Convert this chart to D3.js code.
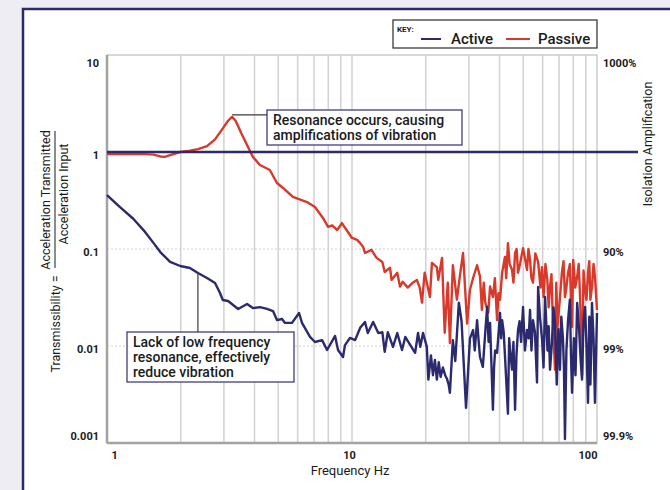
<!DOCTYPE html>
<html>
<head>
<meta charset="utf-8">
<script src="https://cdn.jsdelivr.net/npm/d3@7"></script>
<style>
  body { margin: 0; background: #eeedf3; }
  svg { display: block; }
  text { font-family: Roboto, "Open Sans", sans-serif; fill: #1a1a1a; }
</style>
</head>
<body>
<div id="wrapper"></div>
<script>
// data
const activeFreq = [1.00, 1.13, 1.28, 1.43, 1.55, 1.65, 1.81, 1.99, 2.18, 2.35, 2.56, 2.76, 2.88, 2.97, 3.12, 3.43, 3.73, 3.94, 4.21, 4.50,
  4.76, 4.94, 5.18, 5.33, 5.69, 6.08, 6.25, 6.74, 7.06, 7.55, 7.91, 8.53, 8.77, 9.19, 9.36, 9.81, 10.3, 10.8, 11.3, 11.6,
  12.2, 12.8, 13.3, 13.6, 14.0, 14.7, 15.3, 16.0, 16.5, 17.3, 18.1, 18.6, 19.0, 19.5, 20.2, 20.5, 21.0, 21.4, 21.8, 22.2,
  22.6, 23.0, 23.5, 24.0, 24.4, 24.8, 25.1, 25.8, 26.4, 27.3, 28.0, 29.2,
  30.3, 31.2, 31.7, 32.4, 32.9, 33.3, 34.2, 35.0, 35.6, 36.1, 36.6, 37.6, 38.0, 38.4, 39.1, 40.2, 40.6, 41.0, 41.6, 42.1,
  43.3, 43.8, 44.2, 45.0, 45.6, 46.3, 46.9, 47.6, 48.3, 49.0, 49.9, 50.8, 51.8, 52.6, 53.3, 54.0, 54.8, 55.8, 56.9, 57.5,
  58.5, 59.7, 60.5, 61.4, 62.8, 63.5, 64.3, 65.5, 66.4, 67.4, 68.5, 69.5, 70.6, 71.5, 72.6, 73.3, 74.0, 75.0, 76.2, 77.5,
  78.3, 79.1, 80.5, 81.7, 83.0, 84.5, 85.8, 86.9, 88.1, 89.4, 90.6, 91.9, 93.0, 94.0, 95.4, 96.8, 98.1, 100]
const activeValue = [0.36, 0.27, 0.205, 0.15, 0.115, 0.093, 0.0735, 0.0668, 0.0637, 0.0566, 0.0503, 0.0446, 0.036, 0.0298, 0.0291, 0.0241, 0.0271, 0.0246, 0.0252, 0.0241,
  0.0229, 0.0185, 0.019, 0.0173, 0.0173, 0.0219, 0.0173, 0.0124, 0.011, 0.0115, 0.0091, 0.0127, 0.0091, 0.0077, 0.0102, 0.0121, 0.0115, 0.0154, 0.0177, 0.0136,
  0.0177, 0.0136, 0.0139, 0.0087, 0.0139, 0.0098, 0.0136, 0.0091, 0.0124, 0.0102, 0.0085, 0.0136, 0.0098, 0.0136, 0.0098, 0.0045, 0.008, 0.005, 0.0072, 0.0045,
  0.0068, 0.0048, 0.006, 0.005, 0.0046, 0.004, 0.0033, 0.0115, 0.007, 0.028, 0.018, 0.0023,
  0.012, 0.0146, 0.009, 0.0185, 0.011, 0.0077, 0.0061, 0.014, 0.0252, 0.011, 0.0173, 0.0022, 0.006, 0.009, 0.0085, 0.0219, 0.012, 0.0185, 0.014, 0.008,
  0.002, 0.012, 0.009, 0.0057, 0.011, 0.0022, 0.008, 0.0146, 0.018, 0.011, 0.0252, 0.009, 0.0146, 0.012, 0.0235, 0.009, 0.0185, 0.014, 0.0042, 0.0406,
  0.02, 0.0115, 0.006, 0.032, 0.009, 0.016, 0.0057, 0.011, 0.025, 0.0173, 0.004, 0.015, 0.0057, 0.02, 0.012, 0.006, 0.0011, 0.009, 0.0185, 0.03,
  0.008, 0.0033, 0.012, 0.005, 0.0278, 0.015, 0.007, 0.0045, 0.018, 0.0252, 0.01, 0.0026, 0.02, 0.004, 0.0278, 0.012, 0.0026, 0.0219]

const passiveFreq = [1.00, 1.20, 1.43, 1.55, 1.65, 1.72, 1.81, 1.99, 2.18, 2.35, 2.56, 2.76, 2.97, 3.12, 3.24, 3.35, 3.53, 3.73, 3.94, 4.21,
  4.62, 4.94, 5.23, 5.74, 6.55, 7.06, 7.61, 7.99, 8.30, 8.70, 9.10, 9.50, 10.0, 10.5, 10.8, 11.1, 11.3, 12.0, 12.6, 13.3,
  13.6, 14.3, 14.5, 15.3, 15.7, 16.1, 16.9, 17.7, 18.4, 18.9, 19.3, 19.8, 20.8, 21.2, 22.2, 22.5, 23.3, 23.9, 24.6, 25.1,
  25.8, 26.8, 27.6, 28.4, 29.5,
  30.3, 31.2, 32.4, 33.3, 33.9, 34.5, 35.0, 36.0, 36.6, 37.6, 38.3, 39.1, 39.6, 40.2, 41.0, 42.1, 42.6, 43.3, 44.0, 45.0,
  45.6, 46.3, 47.0, 47.6, 48.5, 49.9, 50.8, 51.8, 52.5, 53.3, 54.0, 54.8, 56.0, 57.5, 58.8, 59.6, 60.5, 61.6, 62.7, 63.5,
  64.3, 65.2, 66.0, 67.4, 68.2, 69.0, 70.5, 71.9, 73.0, 74.0, 75.0, 76.2, 77.5, 78.3, 79.1, 80.0, 81.5, 83.0, 84.2, 85.3,
  86.9, 88.1, 89.4, 90.6, 91.9, 93.0, 94.0, 95.4, 96.8, 98.1, 100]
const passiveValue = [0.95, 0.95, 0.95, 0.94, 0.9, 0.89, 0.93, 1.0, 1.03, 1.07, 1.15, 1.35, 1.75, 2.1, 2.3, 2.1, 1.57, 1.18, 0.89, 0.734,
  0.652, 0.479, 0.426, 0.344, 0.305, 0.271, 0.209, 0.169, 0.175, 0.157, 0.185, 0.157, 0.13, 0.124, 0.115, 0.105, 0.091, 0.098, 0.081, 0.0735,
  0.058, 0.064, 0.048, 0.057, 0.041, 0.046, 0.04, 0.045, 0.048, 0.04, 0.028, 0.057, 0.032, 0.072, 0.065, 0.048, 0.081, 0.0137, 0.045, 0.0107,
  0.068, 0.03, 0.054, 0.091, 0.017,
  0.038, 0.05, 0.068, 0.052, 0.0235, 0.045, 0.028, 0.022, 0.041, 0.032, 0.05, 0.0185, 0.035, 0.03, 0.057, 0.083, 0.05, 0.115, 0.07, 0.061,
  0.045, 0.091, 0.1, 0.057, 0.07, 0.102, 0.08, 0.061, 0.1, 0.077, 0.05, 0.045, 0.09, 0.0735, 0.04, 0.065, 0.032, 0.07, 0.048, 0.025,
  0.041, 0.055, 0.0185, 0.0057, 0.045, 0.0157, 0.03, 0.057, 0.075, 0.032, 0.04, 0.057, 0.07, 0.03, 0.0157, 0.077, 0.04, 0.052, 0.07, 0.032,
  0.005, 0.06, 0.038, 0.03, 0.057, 0.075, 0.03, 0.041, 0.07, 0.052, 0.0235]

const yTickValues = [10, 1, 0.1, 0.01, 0.001]
const yTickLabels = ["10", "1", "0.1", "0.01", "0.001"]
const rightTickValues = [10, 0.1, 0.01, 0.001]
const rightTickLabels = ["1000%", "90%", "99%", "99.9%"]
const xTickValues = [1, 10, 100]
const xTickLabels = ["1", "10", "100"]
const xGridValues = [2, 3, 4, 5, 6, 7, 8, 9, 10, 20, 30, 40, 50, 60, 70, 80, 90]
const yGridValues = [0.1, 0.01]

const seriesNames = ["Active", "Passive"]
const seriesColors = ["#2b2a6e", "#d8392b"]

const resonanceNote = { freq: 3.24, value: 2.3, lines: ["Resonance occurs, causing", "amplifications of vibration"] }
const lackNote = { freq: 2.35, value: 0.0566, lines: ["Lack of low frequency", "resonance, effectively", "reduce vibration"] }

function drawChart() {

  // 1. dimensions
  let dimensions = {
    width: 670,
    height: 490,
    margin: { top: 55, right: 73, bottom: 47, left: 107 },
  }
  dimensions.boundedWidth = dimensions.width - dimensions.margin.left - dimensions.margin.right
  dimensions.boundedHeight = dimensions.height - dimensions.margin.top - dimensions.margin.bottom

  const active = activeFreq.map((f, i) => ({ f: f, v: activeValue[i] }))
  const passive = passiveFreq.map((f, i) => ({ f: f, v: passiveValue[i] }))

  // 2. canvas
  const wrapper = d3.select("#wrapper")
    .append("svg")
      .attr("width", dimensions.width)
      .attr("height", dimensions.height)

  wrapper.append("rect")
      .attr("x", 23)
      .attr("y", 9)
      .attr("width", dimensions.width + 20)
      .attr("height", dimensions.height + 20)
      .attr("fill", "#fff")
      .attr("stroke", seriesColors[0])
      .attr("stroke-width", 2.5)

  const bounds = wrapper.append("g")
      .attr("transform", `translate(${dimensions.margin.left}, ${dimensions.margin.top})`)

  // 3. scales
  const xScale = d3.scaleLog()
    .domain([1, 100])
    .range([0, dimensions.boundedWidth])

  const yScale = d3.scaleLog()
    .domain([0.001, 10])
    .range([dimensions.boundedHeight, 0])

  // 4. grid + frame
  bounds.append("g")
    .selectAll("line")
    .data(xGridValues)
    .join("line")
      .attr("x1", d => xScale(d))
      .attr("x2", d => xScale(d))
      .attr("y1", 0)
      .attr("y2", dimensions.boundedHeight)
      .attr("stroke", "#d2d2d2")
      .attr("stroke-width", 1.5)

  bounds.append("g")
    .selectAll("line")
    .data(yGridValues)
    .join("line")
      .attr("x1", 0)
      .attr("x2", dimensions.boundedWidth)
      .attr("y1", d => yScale(d))
      .attr("y2", d => yScale(d))
      .attr("stroke", "#cfcfcf")
      .attr("stroke-width", 1)
      .attr("stroke-dasharray", "2 2")

  bounds.append("rect")
      .attr("width", dimensions.boundedWidth)
      .attr("height", dimensions.boundedHeight)
      .attr("fill", "none")
      .attr("stroke", "#cccccc")
      .attr("stroke-width", 1.5)

  bounds.append("line")
      .attr("x1", 0).attr("x2", 0)
      .attr("y1", 0).attr("y2", dimensions.boundedHeight)
      .attr("stroke", "#a3a3a3")
      .attr("stroke-width", 2.5)
  bounds.append("line")
      .attr("x1", 0).attr("x2", dimensions.boundedWidth)
      .attr("y1", dimensions.boundedHeight).attr("y2", dimensions.boundedHeight)
      .attr("stroke", "#a3a3a3")
      .attr("stroke-width", 2.5)

  // 5. data lines
  const lineGenerator = d3.line()
    .x(d => xScale(d.f))
    .y(d => yScale(d.v))
    .curve(d3.curveLinear)

  bounds.append("path")
      .datum(passive)
      .attr("d", lineGenerator)
      .attr("fill", "none")
      .attr("stroke", seriesColors[1])
      .attr("stroke-width", 2.4)
      .attr("stroke-linejoin", "round")

  bounds.append("path")
      .datum(active)
      .attr("d", lineGenerator)
      .attr("fill", "none")
      .attr("stroke", seriesColors[0])
      .attr("stroke-width", 2.4)
      .attr("stroke-linejoin", "round")

  // unity line runs past the plot to the page border
  bounds.append("line")
      .attr("x1", 0)
      .attr("x2", dimensions.width - dimensions.margin.left - 32)
      .attr("y1", yScale(1))
      .attr("y2", yScale(1))
      .attr("stroke", seriesColors[0])
      .attr("stroke-width", 2.5)

  // 6. axes
  const lastY = yTickValues.length - 1
  const yAxis = bounds.append("g")
    .call(d3.axisLeft(yScale)
      .tickValues(yTickValues)
      .tickFormat((d, i) => yTickLabels[i])
      .tickSize(0)
      .tickPadding(8))
  yAxis.select(".domain").remove()
  yAxis.selectAll("text")
      .attr("dy", (d, i) => i == 0 ? 11 : i == lastY ? -4 : 6)

  const rightAxis = bounds.append("g")
      .attr("transform", `translate(${dimensions.boundedWidth}, 0)`)
    .call(d3.axisRight(yScale)
      .tickValues(rightTickValues)
      .tickFormat((d, i) => rightTickLabels[i])
      .tickSize(0)
      .tickPadding(6))
  rightAxis.select(".domain").remove()
  rightAxis.selectAll("text")
      .attr("dy", (d, i) => i == 0 ? 11 : i == rightTickValues.length - 1 ? -4 : 6)

  const xAxis = bounds.append("g")
      .attr("transform", `translate(0, ${dimensions.boundedHeight})`)
    .call(d3.axisBottom(xScale)
      .tickValues(xTickValues)
      .tickFormat((d, i) => xTickLabels[i])
      .tickSize(0)
      .tickPadding(8))
  xAxis.select(".domain").remove()
  xAxis.selectAll("text")
      .attr("text-anchor", (d, i) => i == 0 ? "start" : i == xTickValues.length - 1 ? "end" : "middle")
      .attr("dx", (d, i) => i == 0 ? 4 : i == 1 ? -3 : 0)

  wrapper.selectAll(".tick text")
      .style("font-family", "Roboto, sans-serif")
      .style("font-size", "11px")
      .style("font-weight", "700")
      .attr("fill", "#1a1a1a")

  // axis titles
  bounds.append("text")
      .attr("x", dimensions.boundedWidth / 2 - 2)
      .attr("y", dimensions.boundedHeight + 32)
      .attr("text-anchor", "middle")
      .style("font-size", "13px")
      .text("Frequency Hz")

  const yTitle = wrapper.append("g")
  yTitle.append("text")
      .attr("transform", "translate(60, 324) rotate(-90)")
      .attr("text-anchor", "middle")
      .style("font-size", "12.5px")
      .text("Transmissibility =")
  yTitle.append("text")
      .attr("transform", "translate(50, 200) rotate(-90)")
      .attr("text-anchor", "middle")
      .style("font-size", "12.5px")
      .text("Acceleration Transmitted")
  yTitle.append("line")
      .attr("x1", 55).attr("x2", 55)
      .attr("y1", 131).attr("y2", 268)
      .attr("stroke", "#1a1a1a")
      .attr("stroke-width", 1)
  yTitle.append("text")
      .attr("transform", "translate(68, 194) rotate(-90)")
      .attr("text-anchor", "middle")
      .style("font-size", "12.5px")
      .text("Acceleration Input")

  wrapper.append("text")
      .attr("transform", "translate(652, 144) rotate(-90)")
      .attr("text-anchor", "middle")
      .style("font-size", "12.5px")
      .text("Isolation Amplification")

  // 7. annotations
  function drawNote(note, box, leader) {
    const g = wrapper.append("g")
    const px = dimensions.margin.left + xScale(note.freq)
    const py = dimensions.margin.top + yScale(note.value)
    g.append("path")
        .attr("d", leader(px, py))
        .attr("fill", "none")
        .attr("stroke", "#3a3a3a")
        .attr("stroke-width", 1.2)
    g.append("rect")
        .attr("x", box.x)
        .attr("y", box.y)
        .attr("width", box.w)
        .attr("height", box.h)
        .attr("fill", "#fff")
        .attr("stroke", "#3f3e7c")
        .attr("stroke-width", 1.3)
    g.selectAll(".note-line")
      .data(note.lines)
      .join("text")
        .attr("class", "note-line")
        .attr("x", box.x + 6)
        .attr("y", (d, i) => box.y + 15 + i * box.lh)
        .style("font-size", "14px")
        .style("font-weight", "500")
        .text(d => d)
  }

  drawNote(resonanceNote, { x: 267, y: 110, w: 195, h: 35, lh: 15 },
    (px, py) => `M${px},${py - 2}H267`)
  drawNote(lackNote, { x: 127, y: 332, w: 167, h: 50, lh: 15 },
    (px, py) => `M${px},${py}V332`)

  // 8. legend
  const legend = wrapper.append("g")
  legend.append("rect")
      .attr("x", 393)
      .attr("y", 20)
      .attr("width", 204)
      .attr("height", 28)
      .attr("fill", "#fff")
      .attr("stroke", "#3a3a3a")
      .attr("stroke-width", 1.3)
  legend.append("text")
      .attr("x", 397)
      .attr("y", 32)
      .style("font-size", "8px")
      .style("font-weight", "700")
      .text("KEY:")

  const itemX = [421, 506]
  const items = legend.selectAll(".item")
    .data(seriesNames)
    .join("g")
      .attr("class", "item")
      .attr("transform", (d, i) => `translate(${itemX[i]}, 39)`)
  items.append("line")
      .attr("x1", 0)
      .attr("x2", (d, i) => i == 0 ? 20 : 24)
      .attr("stroke", (d, i) => seriesColors[i])
      .attr("stroke-width", 2)
  items.append("text")
      .attr("x", (d, i) => i == 0 ? 30 : 32)
      .attr("y", 5)
      .style("font-size", "15px")
      .style("font-weight", "500")
      .text(d => d)
}

drawChart()
</script>
</body>
</html>
